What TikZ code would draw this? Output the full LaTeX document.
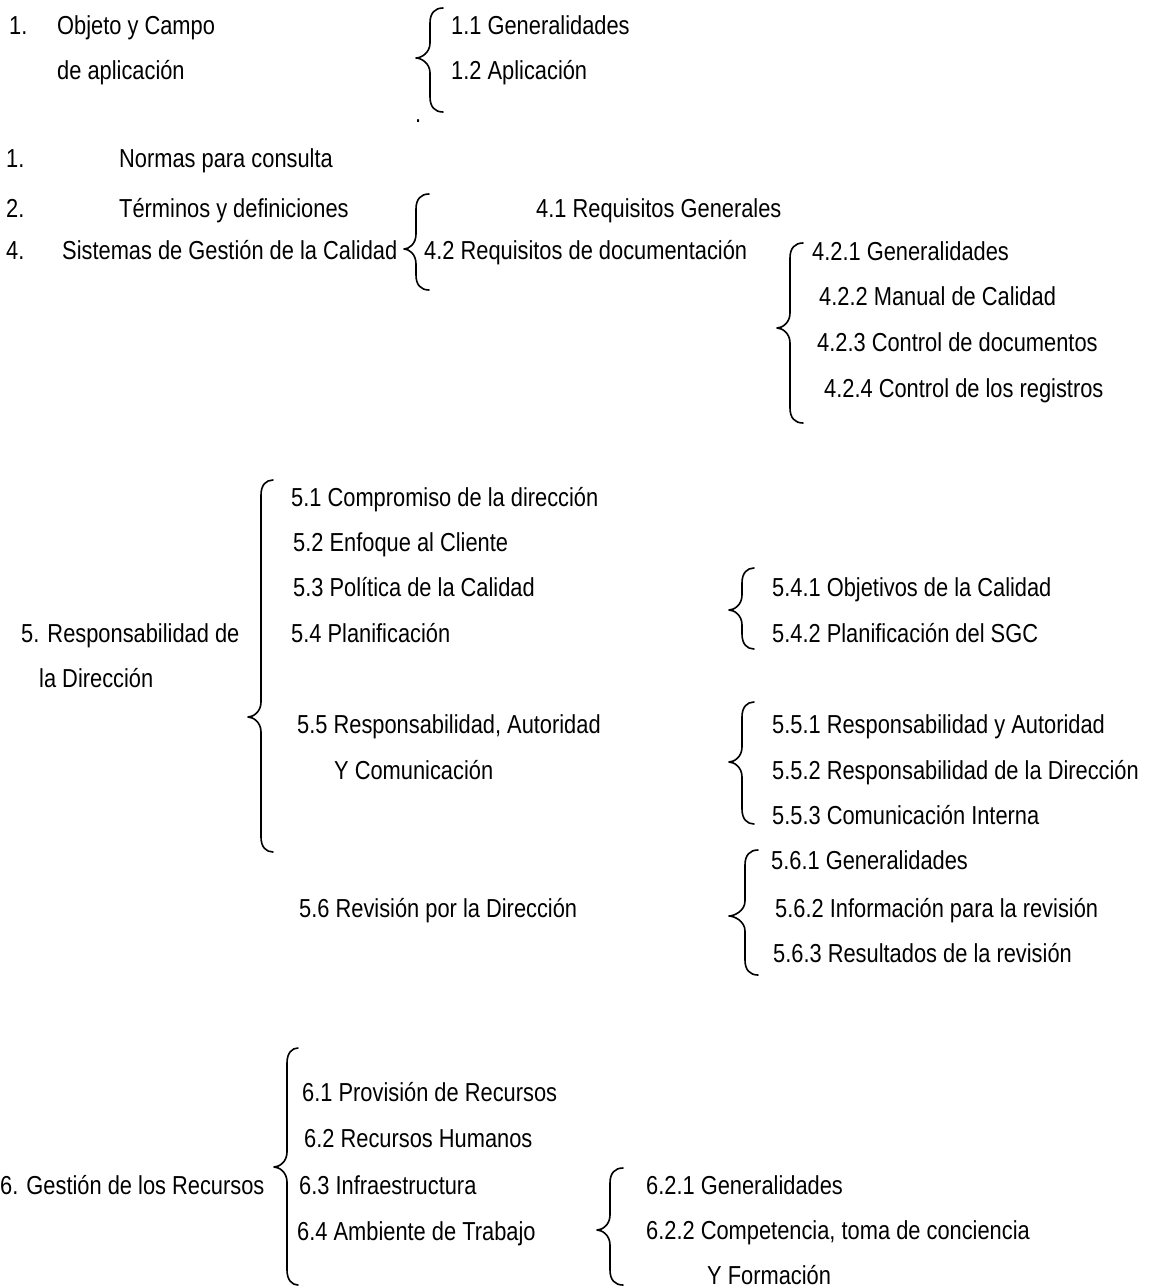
\documentclass[tikz,border=0pt]{standalone}
\usepackage{fontspec}
\setmainfont{Liberation Sans}[FakeStretch=0.84]
% curly brace opening to the right:
% #1 hook-end x, #2 stem x, #3 tip x, #4 top y, #5 tip y, #6 bottom y
\newcommand\curlyb[6]{%
  \draw[bracestyle]
    (#1,#4) .. controls ({#2+5},#4) and (#2,{#4+5}) .. (#2,{#4+15})
    -- (#2,{#5-15})
    .. controls (#2,{#5-5}) and ({#3+5},#5) .. (#3,#5)
    .. controls ({#3+5},#5) and (#2,{#5+5}) .. (#2,{#5+15})
    -- (#2,{#6-15})
    .. controls (#2,{#6-5}) and ({#2+5},#6) .. (#1,#6);}
\begin{document}
\begin{tikzpicture}[x=1bp,y=-1bp,
  lbl/.style={anchor=base west, inner sep=0pt,
    font=\fontsize{26bp}{30bp}\selectfont},
  bracestyle/.style={line width=1.6bp, line cap=round, line join=round}]
\useasboundingbox (0,0) rectangle (1153,1287);

% --- 1. Objeto y campo de aplicacion
\node[lbl] (n1)   at (9,34)  {1.};
\node[lbl] (obj)  at (57,34)  {Objeto y Campo};
\node[lbl] (obj2) at (57,79)  {de aplicación};
\curlyb{443}{430}{416}{8}{58}{112}
\node[lbl] (g11)  at (451,34) {1.1 Generalidades};
\node[lbl] (g12)  at (451,79) {1.2 Aplicación};
\node[lbl] (dot)  at (415,122) {.};

% --- 2. Normas, terminos, sistema de gestion
\node[lbl] (n2)   at (6,167)  {1.};
\node[lbl] (nor)  at (119,167) {Normas para consulta};
\node[lbl] (n3)   at (6,217)  {2.};
\node[lbl] (ter)  at (119,217) {Términos y definiciones};
\node[lbl] (n4)   at (6,259)  {4.};
\node[lbl] (sgc)  at (62,259) {Sistemas de Gestión de la Calidad};
\curlyb{429}{416}{404}{194}{249}{290}
\node[lbl] (r41)  at (536,217) {4.1 Requisitos Generales};
\node[lbl] (r42)  at (424,259) {4.2 Requisitos de documentación};
\curlyb{803}{790}{777}{243}{328}{423}
\node[lbl] (r421) at (812,260) {4.2.1 Generalidades};
\node[lbl] (r422) at (819,305) {4.2.2 Manual de Calidad};
\node[lbl] (r423) at (817,351) {4.2.3 Control de documentos};
\node[lbl] (r424) at (824,397) {4.2.4 Control de los registros};

% --- 5. Responsabilidad de la direccion
\node[lbl] (rd)   at (21,642) {5. Responsabilidad de};
\node[lbl] (rd2)  at (39,687) {la Dirección};
\curlyb{273}{261}{248}{480}{717}{852}
\node[lbl] (s51)  at (291,506) {5.1 Compromiso de la dirección};
\node[lbl] (s52)  at (293,551) {5.2 Enfoque al Cliente};
\node[lbl] (s53)  at (293,596) {5.3 Política de la Calidad};
\node[lbl] (s54)  at (291,642) {5.4 Planificación};
\node[lbl] (s55)  at (297,733) {5.5 Responsabilidad, Autoridad};
\node[lbl] (s55b) at (334,779) {Y Comunicación};
\node[lbl] (s56)  at (299,917) {5.6 Revisión por la Dirección};

\curlyb{754}{742}{729}{568}{610}{649}
\node[lbl] (s541) at (772,596) {5.4.1 Objetivos de la Calidad};
\node[lbl] (s542) at (772,642) {5.4.2 Planificación del SGC};

\curlyb{754}{742}{729}{702}{762}{824}
\node[lbl] (s551) at (772,733) {5.5.1 Responsabilidad y Autoridad};
\node[lbl] (s552) at (772,779) {5.5.2 Responsabilidad de la Dirección};
\node[lbl] (s553) at (772,824) {5.5.3 Comunicación Interna};

\curlyb{758}{745}{729}{850}{916}{975}
\node[lbl] (s561) at (771,869) {5.6.1 Generalidades};
\node[lbl] (s562) at (775,917) {5.6.2 Información para la revisión};
\node[lbl] (s563) at (773,962) {5.6.3 Resultados de la revisión};

% --- 6. Gestion de los recursos
\node[lbl] (gr)   at (0,1194) {6. Gestión de los Recursos};
\curlyb{298}{287}{274}{1048}{1167}{1285}
\node[lbl] (t61)  at (302,1101) {6.1 Provisión de Recursos};
\node[lbl] (t62)  at (304,1147) {6.2 Recursos Humanos};
\node[lbl] (t63)  at (299,1194) {6.3 Infraestructura};
\node[lbl] (t64)  at (297,1240) {6.4 Ambiente de Trabajo};
\curlyb{623}{610}{597}{1168}{1230}{1285}
\node[lbl] (t621) at (646,1194) {6.2.1 Generalidades};
\node[lbl] (t622) at (646,1239) {6.2.2 Competencia, toma de conciencia};
\node[lbl] (t622b) at (707,1284) {Y Formación};
\end{tikzpicture}
\end{document}
